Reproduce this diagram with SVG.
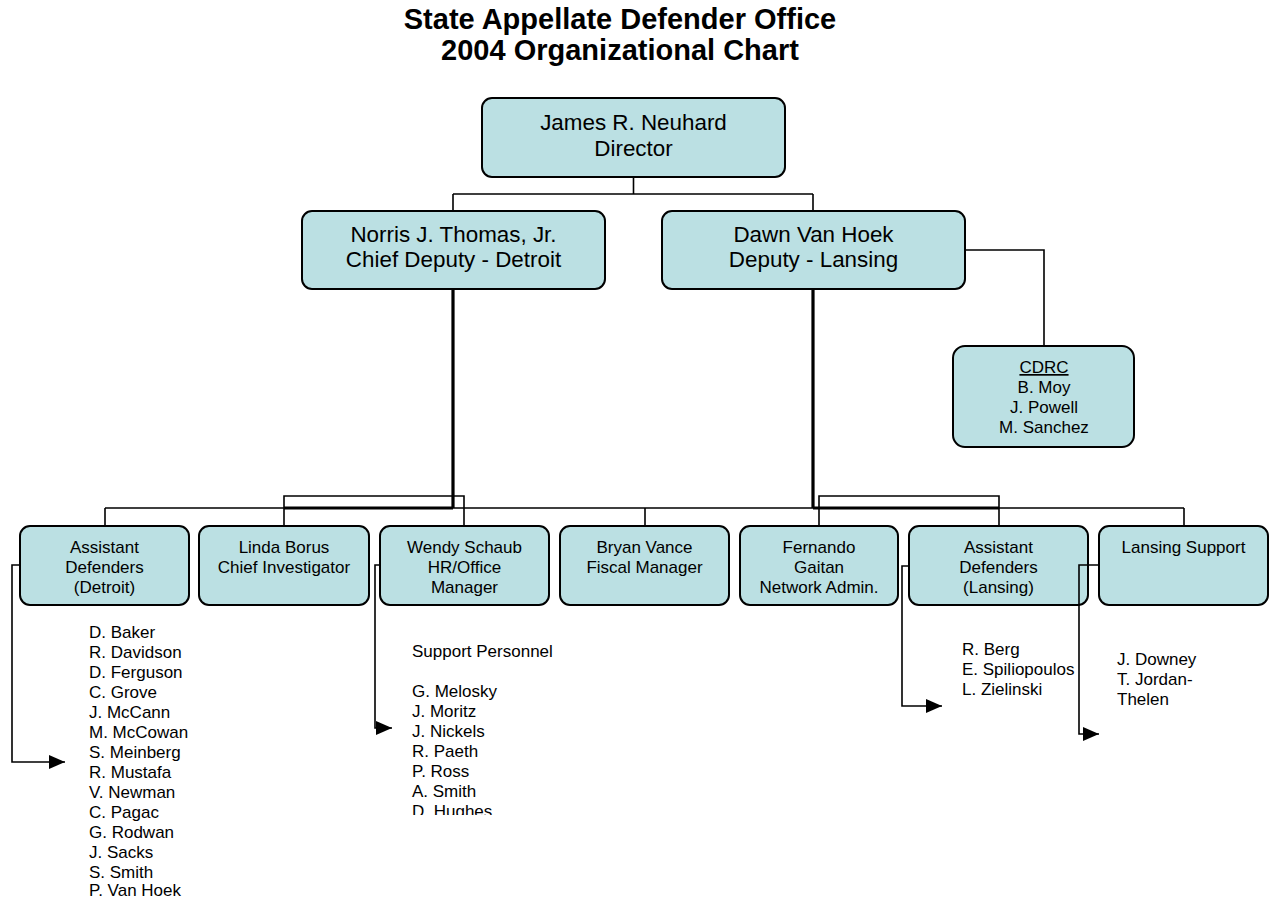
<svg xmlns="http://www.w3.org/2000/svg" width="1270" height="899" viewBox="0 0 1270 899">
<style>
.box{fill:#BBE0E3;stroke:#000;stroke-width:2}
.t22{font-family:"Liberation Sans",Arial,sans-serif;font-size:22.4px;fill:#000;text-anchor:middle}
.t17{font-family:"Liberation Sans",Arial,sans-serif;font-size:17px;fill:#000;text-anchor:middle}
.lst{font-family:"Liberation Sans",Arial,sans-serif;font-size:17px;fill:#000}
.title{font-family:"Liberation Sans",Arial,sans-serif;font-size:29px;font-weight:bold;fill:#000;text-anchor:middle}
.ln{fill:none;stroke:#000;stroke-width:1.6}
.thick{fill:none;stroke:#000;stroke-width:3.2}
</style>
<defs>
<marker id="arr" markerUnits="userSpaceOnUse" markerWidth="16" markerHeight="14" refX="16" refY="7" orient="auto">
<path d="M0,0 L16,7 L0,14 z" fill="#000"/>
</marker>
<clipPath id="clipSup"><rect x="400" y="630" width="200" height="185"/></clipPath>
</defs>
<rect width="1270" height="899" fill="#fff"/>
<g id="title">
<text class="title" x="620" y="29">State Appellate Defender Office</text>
<text class="title" x="620" y="60">2004 Organizational Chart</text>
</g>
<g id="n-director"><rect class="box" x="482" y="98" width="303" height="79" rx="10"/>
<text class="t22" x="633.5" y="130">James R. Neuhard</text><text class="t22" x="633.5" y="156">Director</text></g>
<g id="n-norris"><rect class="box" x="302" y="211" width="303" height="78" rx="10"/>
<text class="t22" x="453.5" y="242">Norris J. Thomas, Jr.</text><text class="t22" x="453.5" y="267">Chief Deputy - Detroit</text></g>
<g id="n-dawn"><rect class="box" x="662" y="211" width="303" height="78" rx="10"/>
<text class="t22" x="813.5" y="242">Dawn Van Hoek</text><text class="t22" x="813.5" y="267">Deputy - Lansing</text></g>
<g id="n-cdrc"><rect class="box" x="953" y="346" width="181" height="101" rx="12"/>
<text class="t17" x="1044" y="373" text-decoration="underline">CDRC</text>
<text class="t17" x="1044" y="393">B. Moy</text><text class="t17" x="1044" y="413">J. Powell</text><text class="t17" x="1044" y="433">M. Sanchez</text></g>
<g id="n-asst-detroit"><rect class="box" x="20" y="526" width="169" height="79" rx="10"/>
<text class="t17" x="104.5" y="553">Assistant</text><text class="t17" x="104.5" y="573">Defenders</text><text class="t17" x="104.5" y="593">(Detroit)</text></g>
<g id="n-borus"><rect class="box" x="199" y="526" width="170" height="79" rx="10"/>
<text class="t17" x="284" y="553">Linda Borus</text><text class="t17" x="284" y="573">Chief Investigator</text></g>
<g id="n-schaub"><rect class="box" x="380" y="526" width="169" height="79" rx="10"/>
<text class="t17" x="464.5" y="553">Wendy Schaub</text><text class="t17" x="464.5" y="573">HR/Office</text><text class="t17" x="464.5" y="593">Manager</text></g>
<g id="n-vance"><rect class="box" x="560" y="526" width="169" height="79" rx="10"/>
<text class="t17" x="644.5" y="553">Bryan Vance</text><text class="t17" x="644.5" y="573">Fiscal Manager</text></g>
<g id="n-gaitan"><rect class="box" x="740" y="526" width="158" height="79" rx="10"/>
<text class="t17" x="819" y="553">Fernando</text><text class="t17" x="819" y="573">Gaitan</text><text class="t17" x="819" y="593">Network Admin.</text></g>
<g id="n-asst-lansing"><rect class="box" x="909" y="526" width="179" height="79" rx="10"/>
<text class="t17" x="998.5" y="553">Assistant</text><text class="t17" x="998.5" y="573">Defenders</text><text class="t17" x="998.5" y="593">(Lansing)</text></g>
<g id="n-lansing-support"><rect class="box" x="1099" y="526" width="169" height="79" rx="10"/>
<text class="t17" x="1183.5" y="553">Lansing Support</text></g>
<g id="list-detroit" class="lst">
<text x="89" y="638">D. Baker</text><text x="89" y="658">R. Davidson</text><text x="89" y="678">D. Ferguson</text><text x="89" y="698">C. Grove</text><text x="89" y="718">J. McCann</text><text x="89" y="738">M. McCowan</text><text x="89" y="758">S. Meinberg</text><text x="89" y="778">R. Mustafa</text><text x="89" y="798">V. Newman</text><text x="89" y="818">C. Pagac</text><text x="89" y="838">G. Rodwan</text><text x="89" y="858">J. Sacks</text><text x="89" y="878">S. Smith</text><text x="89" y="896">P. Van Hoek</text>
</g>
<g id="list-support" class="lst" clip-path="url(#clipSup)">
<text x="412" y="657">Support Personnel</text><text x="412" y="697">G. Melosky</text><text x="412" y="717">J. Moritz</text><text x="412" y="737">J. Nickels</text><text x="412" y="757">R. Paeth</text><text x="412" y="777">P. Ross</text><text x="412" y="797">A. Smith</text><text x="412" y="817">D. Hughes</text>
</g>
<g id="list-lansing" class="lst">
<text x="962" y="655">R. Berg</text><text x="962" y="675">E. Spiliopoulos</text><text x="962" y="695">L. Zielinski</text>
</g>
<g id="list-lansing-support" class="lst">
<text x="1117" y="665">J. Downey</text><text x="1117" y="685">T. Jordan-</text><text x="1117" y="705">Thelen</text>
</g>
<g id="connectors">
<path class="ln" d="M633.5,177 V194 M453,194 H813 M453,194 V211 M813,194 V211"/>
<path class="thick" d="M453,289 V508 M813,289 V508"/>
<path class="ln" d="M105,508 H1184 M105,508 V526 M645,508 V526 M1184,508 V526"/>
<path class="thick" d="M284,508 H453 M813,508 H999"/>
<path class="ln" d="M284,526 V496 H464 V526 M819,526 V496 H999 V526"/>
<path class="ln" d="M965,250 H1044 V346"/>
<path class="ln" d="M20,565 H12 V762 H65" marker-end="url(#arr)"/>
<path class="ln" d="M380,565 H375 V728 H392" marker-end="url(#arr)"/>
<path class="ln" d="M909,566 H902 V706 H942" marker-end="url(#arr)"/>
<path class="ln" d="M1099,565 H1079 V734 H1099" marker-end="url(#arr)"/>
</g>
</svg>
